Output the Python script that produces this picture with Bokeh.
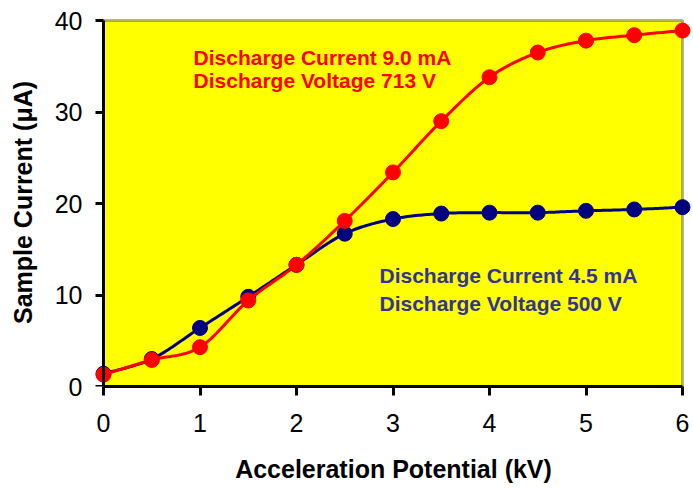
import numpy as np
from bokeh.plotting import figure
from bokeh.models import Range1d, FixedTicker, BoxAnnotation, Label, LinearAxis
from bokeh.embed import file_html
from bokeh.resources import INLINE

# ---- data ----
x_kv = [0, 0.5, 1, 1.5, 2, 2.5, 3, 3.5, 4, 4.5, 5, 5.5, 6]
current_9mA = [1.3, 2.9, 4.3, 9.4, 13.3, 18.1, 23.4, 29.0, 33.8, 36.5, 37.8, 38.4, 38.9]
current_4p5mA = [1.4, 3.0, 6.4, 9.8, 13.3, 16.7, 18.3, 18.9, 19.0, 19.0, 19.2, 19.35, 19.6]
x_ticks = [0, 1, 2, 3, 4, 5, 6]
y_ticks = [0, 10, 20, 30, 40]
X_MIN, X_MAX = 0, 6
Y_MIN, Y_MAX = 0, 40
label_red = ["Discharge Current 9.0 mA", "Discharge Voltage 713 V"]
label_blue = ["Discharge Current 4.5 mA", "Discharge Voltage 500 V"]

FONT = "Liberation Sans"


def smooth(xs, ys, n=24):
    """Catmull-Rom style smoothing (like a spreadsheet 'smoothed line')."""
    P = np.column_stack([xs, ys]).astype(float)
    P_ext = np.vstack([P[0], P, P[-1]])
    out = []
    t = np.linspace(0, 1, n)[:, None]
    for i in range(len(P) - 1):
        p0, p1, p2, p3 = P_ext[i], P_ext[i + 1], P_ext[i + 2], P_ext[i + 3]
        c1 = p1 + (p2 - p0) / 6.0
        c2 = p2 - (p3 - p1) / 6.0
        seg = ((1 - t) ** 3) * p1 + 3 * ((1 - t) ** 2) * t * c1 + 3 * (1 - t) * t ** 2 * c2 + t ** 3 * p2
        out.append(seg if i == 0 else seg[1:])
    seg = np.vstack(out)
    return seg[:, 0], seg[:, 1]


W, H = 693, 494
left_b, right_b, top_b, bottom_b = 93, 0, 18, 108
frame_w = W - left_b - right_b
frame_h = H - top_b - bottom_b
px_x = 96.5
px_y = 9.15
x_start = X_MIN - 10 / px_x
x_end = x_start + frame_w / px_x
y_end = Y_MAX + 2 / px_y

p = figure(width=W, height=H, output_backend="svg", toolbar_location=None,
           x_range=Range1d(x_start, x_end), y_range=Range1d(Y_MIN, y_end),
           min_border_left=left_b, min_border_right=right_b,
           min_border_top=top_b, min_border_bottom=bottom_b)
p.outline_line_color = None
p.background_fill_color = "white"
p.border_fill_color = "white"
p.xgrid.visible = False
p.ygrid.visible = False

p.add_layout(BoxAnnotation(left=X_MIN, right=X_MAX, bottom=Y_MIN, top=Y_MAX,
                           fill_color="#FFFF00", fill_alpha=1.0,
                           line_color="black", line_width=3, level="underlay"))

bx, by = smooth(x_kv, current_4p5mA)
p.line(bx, by, line_color="#000080", line_width=3)
p.scatter(x_kv, current_4p5mA, size=15, fill_color="#000080", line_color="#000080")

rx, ry = smooth(x_kv, current_9mA)
p.line(rx, ry, line_color="#FF0000", line_width=3)
p.scatter(x_kv, current_9mA, size=15, fill_color="#FF0000", line_color="#FF0000")


def style_labels(ax):
    ax.major_label_text_font = FONT
    ax.major_label_text_font_size = "25px"
    ax.major_label_text_color = "black"
    ax.axis_label_text_font = FONT
    ax.axis_label_text_font_size = "25px"
    ax.axis_label_text_font_style = "bold"
    ax.axis_label_text_color = "black"
    ax.minor_tick_line_color = None


# x axis (normal, bottom)
xa = p.xaxis[0]
style_labels(xa)
xa.ticker = FixedTicker(ticks=x_ticks)
xa.bounds = (X_MIN, X_MAX)
xa.axis_line_width = 3
xa.axis_line_color = "black"
xa.major_tick_line_width = 3
xa.major_tick_line_color = "black"
xa.major_tick_in = 0
xa.major_tick_out = 9
xa.major_label_standoff = 18
xa.axis_label = "Acceleration Potential (kV)"
xa.axis_label_standoff = 20

# y axis labels (normal, left; line and ticks hidden)
ya = p.yaxis[0]
style_labels(ya)
ya.ticker = FixedTicker(ticks=y_ticks)
ya.axis_line_color = None
ya.major_tick_line_color = None
ya.major_tick_in = 0
ya.major_tick_out = 0
ya.major_label_standoff = 11
ya.axis_label = "Sample Current (\u03bcA)"
ya.axis_label_standoff = 15

# y axis line and ticks, fixed at x = 0
yline = LinearAxis(fixed_location=0, ticker=FixedTicker(ticks=y_ticks), bounds=(Y_MIN, Y_MAX))
yline.axis_line_width = 3
yline.axis_line_color = "black"
yline.major_tick_line_width = 3
yline.major_tick_line_color = "black"
yline.major_tick_in = 0
yline.major_tick_out = 8
yline.minor_tick_line_color = None
yline.major_label_text_alpha = 0
yline.major_label_text_font_size = "1px"
p.add_layout(yline, "left")

for txt, yy in zip(label_red, [35.96, 33.44]):
    p.add_layout(Label(x=0.933, y=yy, text=txt, text_font=FONT, text_font_size="21px",
                       text_font_style="bold", text_color="#FF0000",
                       text_baseline="alphabetic"))
for txt, yy in zip(label_blue, [12.13, 9.07]):
    p.add_layout(Label(x=2.86, y=yy, text=txt, text_font=FONT, text_font_size="21px",
                       text_font_style="bold", text_color="#333399",
                       text_baseline="alphabetic"))

open("out.html", "w").write(file_html(p, INLINE))
